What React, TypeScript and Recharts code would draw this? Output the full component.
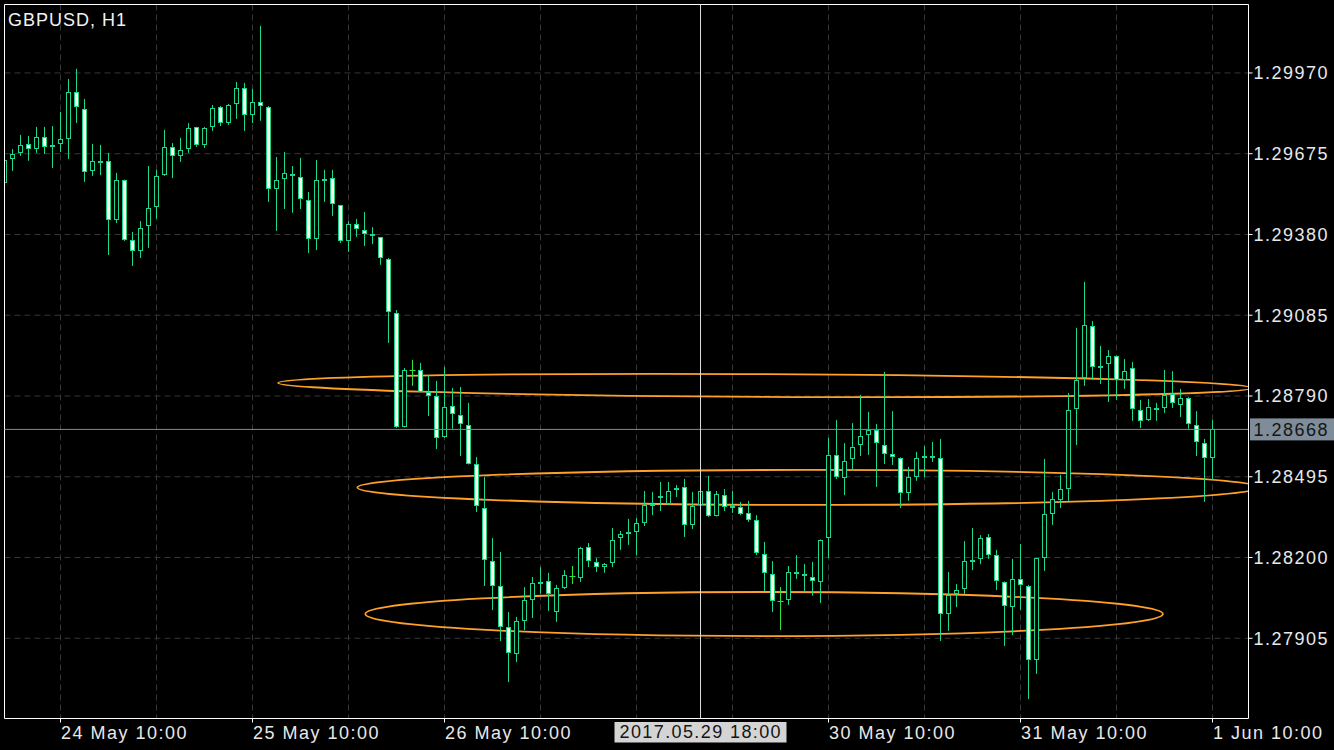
import {
  ComposedChart,
  Bar,
  XAxis,
  YAxis,
  CartesianGrid,
  ReferenceLine,
  ReferenceArea,
} from 'recharts'

// GBPUSD H1, bar 0 = 24 May 03:00 ... bar 151 = 1 Jun 10:00
const opens = [
  1.29568, 1.29656, 1.29678, 1.29711, 1.29692, 1.29736, 1.29707, 1.29711, 1.29729, 1.29901,
  1.29839, 1.29612, 1.29649, 1.29649, 1.29433, 1.29579, 1.2936, 1.2932, 1.29411, 1.29481,
  1.29597, 1.297, 1.29667, 1.29692, 1.29773, 1.29707, 1.29773, 1.29846, 1.29787, 1.29857,
  1.29915, 1.29817, 1.29864, 1.29846, 1.29546, 1.29583, 1.29601, 1.2959, 1.29506, 1.29364,
  1.29583, 1.29586, 1.29488, 1.29356, 1.29418, 1.29397, 1.29382, 1.29371, 1.29291, 1.29093,
  1.28677, 1.28885, 1.28885, 1.28805, 1.2879, 1.2864, 1.28754, 1.28721, 1.28684, 1.28542,
  1.28381, 1.28187, 1.28096, 1.27946, 1.27848, 1.27968, 1.28045, 1.28107, 1.28114, 1.28001,
  1.28089, 1.28133, 1.28125, 1.28239, 1.28184, 1.28165, 1.2818, 1.28271, 1.2829, 1.28293,
  1.28326, 1.28392, 1.28421, 1.28396, 1.28447, 1.28458, 1.28319, 1.28392, 1.28443, 1.28352,
  1.28428, 1.28388, 1.28385, 1.28363, 1.28337, 1.28213, 1.2814, 1.28041, 1.28045, 1.28147,
  1.2814, 1.28129, 1.28111, 1.28271, 1.28575, 1.28491, 1.2856, 1.28611, 1.28648, 1.28666,
  1.28611, 1.28578, 1.28564, 1.28436, 1.28494, 1.28567, 1.28571, 1.28564, 1.27994, 1.28067,
  1.28085, 1.28187, 1.28195, 1.28275, 1.28209, 1.28111, 1.28019, 1.28122, 1.28096, 1.27826,
  1.28198, 1.28359, 1.2841, 1.2845, 1.28743, 1.28856, 1.29046, 1.289, 1.28907, 1.28936,
  1.28849, 1.28892, 1.28739, 1.28702, 1.28746, 1.28746, 1.28797, 1.28757, 1.28783, 1.28684,
  1.28618, 1.28564,
]

const highs = [
  1.2967, 1.29692, 1.29744, 1.2974, 1.29773, 1.29773, 1.29776, 1.29828, 1.29948, 1.29985,
  1.29875, 1.29711, 1.29707, 1.29678, 1.29605, 1.2958, 1.29389, 1.29429, 1.2963, 1.29616,
  1.29762, 1.29714, 1.29733, 1.29787, 1.29773, 1.29773, 1.29853, 1.29849, 1.29857, 1.29937,
  1.29934, 1.29912, 1.30142, 1.29849, 1.29663, 1.29681, 1.2963, 1.2966, 1.29535, 1.29652,
  1.29616, 1.29616, 1.29488, 1.29429, 1.29437, 1.29462, 1.29407, 1.29371, 1.29294, 1.29104,
  1.28892, 1.28922, 1.28911, 1.28867, 1.28845, 1.28896, 1.28819, 1.28823, 1.28765, 1.28567,
  1.28494, 1.28271, 1.2822, 1.28001, 1.27983, 1.28092, 1.28129, 1.28165, 1.28144, 1.281,
  1.28154, 1.28169, 1.28239, 1.28253, 1.28198, 1.2818, 1.28308, 1.28297, 1.28341, 1.28344,
  1.28443, 1.28439, 1.28476, 1.28476, 1.28465, 1.28487, 1.28439, 1.28454, 1.28498, 1.28443,
  1.2845, 1.28443, 1.28403, 1.28407, 1.28355, 1.28257, 1.28187, 1.28092, 1.28169, 1.28209,
  1.28176, 1.28184, 1.28266, 1.28637, 1.28702, 1.28618, 1.28691, 1.28794, 1.28732, 1.28688,
  1.28878, 1.28735, 1.28566, 1.28531, 1.28586, 1.28607, 1.28622, 1.28633, 1.28147, 1.28103,
  1.2826, 1.28308, 1.28282, 1.28286, 1.28228, 1.28113, 1.28195, 1.28249, 1.281, 1.28198,
  1.2856, 1.28439, 1.28502, 1.28801, 1.29039, 1.29207, 1.29064, 1.28973, 1.28958, 1.28938,
  1.28925, 1.28914, 1.28776, 1.28779, 1.28765, 1.28885, 1.28881, 1.28816, 1.28786, 1.28735,
  1.28633, 1.28702,
]

const lows = [
  1.2955, 1.29612, 1.29667, 1.29649, 1.29678, 1.29674, 1.29623, 1.29681, 1.29656, 1.29787,
  1.29572, 1.29594, 1.29597, 1.29305, 1.29422, 1.29356, 1.29265, 1.29294, 1.29331, 1.29437,
  1.29594, 1.29586, 1.29645, 1.29678, 1.297, 1.29696, 1.29758, 1.29776, 1.2978, 1.29802,
  1.29758, 1.29787, 1.29795, 1.29499, 1.29393, 1.29473, 1.29459, 1.29473, 1.29312, 1.29323,
  1.29499, 1.29448, 1.29349, 1.29316, 1.29371, 1.29338, 1.29345, 1.29269, 1.28984, 1.28673,
  1.28675, 1.28827, 1.28803, 1.28717, 1.28596, 1.28637, 1.2867, 1.28571, 1.2854, 1.28366,
  1.28096, 1.28008, 1.27895, 1.27745, 1.27818, 1.27935, 1.27979, 1.28067, 1.28005, 1.27965,
  1.28085, 1.28103, 1.28111, 1.28165, 1.28147, 1.28144, 1.28165, 1.28228, 1.28246, 1.28209,
  1.28315, 1.28355, 1.2837, 1.28392, 1.28421, 1.28275, 1.28304, 1.28385, 1.28348, 1.2835,
  1.2837, 1.28363, 1.28355, 1.2833, 1.28209, 1.28078, 1.28001, 1.27935, 1.28027, 1.28122,
  1.28078, 1.2806, 1.28034, 1.28198, 1.28487, 1.28428, 1.2852, 1.28571, 1.28575, 1.28458,
  1.28542, 1.28538, 1.28381, 1.28407, 1.2848, 1.28494, 1.28549, 1.27895, 1.27932, 1.28019,
  1.28067, 1.28154, 1.28176, 1.28195, 1.28081, 1.27877, 1.27917, 1.28008, 1.27683, 1.27775,
  1.28151, 1.28319, 1.28381, 1.28407, 1.28611, 1.28827, 1.28849, 1.28834, 1.28768, 1.28776,
  1.28816, 1.28699, 1.28673, 1.28699, 1.28699, 1.28728, 1.28746, 1.28713, 1.2867, 1.28571,
  1.28403, 1.28483,
]

const closes = [
  1.29652, 1.29674, 1.29707, 1.29692, 1.29736, 1.297, 1.297, 1.29729, 1.29901, 1.29846,
  1.29608, 1.29649, 1.29645, 1.29433, 1.29579, 1.2936, 1.2932, 1.29404, 1.29477, 1.29594,
  1.297, 1.29667, 1.29689, 1.29769, 1.29707, 1.29769, 1.29842, 1.29787, 1.29853, 1.29915,
  1.29817, 1.29864, 1.29849, 1.29546, 1.29579, 1.29605, 1.29594, 1.2951, 1.29364, 1.29579,
  1.29579, 1.29491, 1.29356, 1.29418, 1.294, 1.29382, 1.29375, 1.29294, 1.29097, 1.28677,
  1.28885, 1.28885, 1.28805, 1.2879, 1.28637, 1.2875, 1.28724, 1.28688, 1.28542, 1.28388,
  1.28191, 1.28096, 1.27946, 1.27851, 1.27968, 1.28045, 1.28107, 1.28111, 1.28067, 1.28089,
  1.28136, 1.28133, 1.28235, 1.28187, 1.28165, 1.28176, 1.28264, 1.28286, 1.28293, 1.28326,
  1.28392, 1.28396, 1.28425, 1.28443, 1.28454, 1.28319, 1.28388, 1.28443, 1.28352, 1.28432,
  1.28385, 1.28385, 1.28359, 1.28337, 1.28217, 1.28144, 1.28041, 1.28041, 1.28147, 1.2814,
  1.28136, 1.28114, 1.28264, 1.28575, 1.28494, 1.28553, 1.28604, 1.28644, 1.28666, 1.28618,
  1.28578, 1.28567, 1.28436, 1.28494, 1.28564, 1.28571, 1.28567, 1.27994, 1.28063, 1.28081,
  1.28187, 1.28191, 1.28271, 1.28209, 1.28114, 1.28023, 1.28122, 1.281, 1.27826, 1.28198,
  1.28359, 1.28414, 1.2845, 1.28739, 1.28849, 1.29049, 1.28896, 1.28896, 1.28936, 1.28849,
  1.28881, 1.28743, 1.28699, 1.2875, 1.28743, 1.28794, 1.28765, 1.28783, 1.28688, 1.28622,
  1.28564, 1.28668,
]

// axes
const priceTicks = [1.27905, 1.282, 1.28495, 1.2879, 1.29085, 1.2938, 1.29675, 1.2997]
const gridBars = [7, 19, 31, 43, 55, 67, 79, 91, 103, 115, 127, 139, 151]
const labelBars = [7, 31, 55, 79, 103, 127, 151]
const labelTexts = ['24 May 10:00', '25 May 10:00', '26 May 10:00', '29 May 10:00', '30 May 10:00', '31 May 10:00', '1 Jun 10:00']
const priceDomain = [1.27612, 1.3022]
const barDomain = [0, 155.5]

// chart objects
const bidPrice = 1.28668
const crossBar = 87
const crossText = '2017.05.29 18:00'
const ellipseLeft = [34.2, 44.1, 45.1]
const ellipseRight = [155.9, 156.8, 144.8]
const ellipseLow = [1.28787, 1.28392, 1.27913]
const ellipseHigh = [1.2887, 1.2852, 1.28074]
const ellipseTilt = [0.3, 0, 0]

const FONT = '"Liberation Sans", Arial, Helvetica, sans-serif'
const WICK = '#1bd68c'
const DOJI = '#2fe23a'
const CREAM = '#fff6d6'
const ORANGE = '#ffa02a'
const TEXT = '#e8e8e8'

const candles = opens.map((o, i) => ({
  i,
  open: o,
  high: highs[i],
  low: lows[i],
  close: closes[i],
  range: [lows[i], highs[i]],
}))

function Candle(props: any) {
  const { x, y, width, height, payload } = props
  if (!payload || height == null || isNaN(y)) return null
  const { open, close, high, low } = payload
  const cx = Math.floor(x + width / 2) + 0.5
  const per = height / (high - low)
  const toY = (p: number) => y + (high - p) * per
  const yo = toY(open)
  const yc = toY(close)
  const top = Math.round(Math.min(yo, yc))
  const bottom = Math.round(Math.max(yo, yc))
  if (open === close) {
    return (
      <g>
        <line x1={cx} x2={cx} y1={y} y2={y + height} stroke={DOJI} />
        <line x1={cx - 3} x2={cx + 3} y1={top + 0.5} y2={top + 0.5} stroke={DOJI} />
      </g>
    )
  }
  const bull = close > open
  return (
    <g>
      <line x1={cx} x2={cx} y1={y} y2={y + height} stroke={WICK} />
      {bottom - top < 2 ? (
        <rect x={cx - 2.5} y={top} width={5} height={2} fill={WICK} />
      ) : (
        <rect
          x={cx - 2}
          y={top + 0.5}
          width={4}
          height={bottom - top - 1}
          fill={bull ? '#000' : CREAM}
          stroke={WICK}
          strokeWidth={1}
        />
      )}
    </g>
  )
}

function XTick(props: any) {
  const { x, y, payload } = props
  const n = labelBars.indexOf(payload.value)
  if (n < 0 || Math.abs(payload.value - crossBar) < 12) return null
  return (
    <g>
      <line x1={x} x2={x} y1={y} y2={y + 4} stroke="#fff" />
      <text x={x + 0.5} y={y + 20.5} fill={TEXT} fontSize={18} fontFamily={FONT} letterSpacing={1.5}>
        {labelTexts[n]}
      </text>
    </g>
  )
}

function PriceTag(props: any) {
  const { viewBox } = props
  if (!viewBox) return null
  const right = viewBox.x + viewBox.width
  return (
    <g>
      <rect x={right + 1.5} y={viewBox.y - 11} width={90} height={22} fill="#7f8c99" />
      <text x={right + 5} y={viewBox.y + 6.5} fill="#151515" fontSize={18} fontFamily={FONT} letterSpacing={1.5}>
        {bidPrice.toFixed(5)}
      </text>
    </g>
  )
}

function TimeTag(props: any) {
  const { viewBox } = props
  if (!viewBox) return null
  const bottom = viewBox.y + viewBox.height
  return (
    <g>
      <rect x={viewBox.x - 86} y={bottom + 3.5} width={172} height={20.5} fill="#d4d4d4" />
      <text x={viewBox.x - 81} y={bottom + 19.5} fill="#151515" fontSize={18} fontFamily={FONT} letterSpacing={1.4}>
        {crossText}
      </text>
    </g>
  )
}

const ellipseShape = (tilt: number) => (props: any) => {
  const { x, y, width, height, clipPath } = props
  const cx = x + width / 2
  const cy = y + height / 2
  return (
    <g clipPath={clipPath}>
      <ellipse
        cx={cx}
        cy={cy}
        rx={width / 2}
        ry={height / 2}
        fill="none"
        stroke={ORANGE}
        strokeWidth={1.8}
        transform={`rotate(${tilt} ${cx} ${cy})`}
      />
    </g>
  )
}

export default function App() {
  return (
    <div style={{ position: 'absolute', left: 0, top: 0, width: 1334, height: 750, background: '#000', overflow: 'hidden' }}>
      <div
        style={{
          position: 'absolute',
          left: 8,
          top: 10,
          color: '#f2f2f2',
          fontFamily: FONT,
          fontSize: 18,
          lineHeight: '20px',
          letterSpacing: 1,
          zIndex: 2,
        }}
      >
        GBPUSD, H1
      </div>
      <ComposedChart width={1334} height={750} data={candles} margin={{ top: 4.5, right: 0, bottom: 0, left: 4.5 }}>
        <CartesianGrid stroke="#363636" strokeDasharray="6 4" />
        <XAxis
          dataKey="i"
          type="number"
          domain={barDomain}
          ticks={gridBars}
          interval={0}
          allowDataOverflow
          height={31.5}
          tickSize={0}
          tickMargin={0}
          tickLine={false}
          axisLine={{ stroke: '#fff' }}
          tick={<XTick />}
        />
        <YAxis
          orientation="right"
          type="number"
          domain={priceDomain}
          ticks={priceTicks}
          interval={0}
          allowDataOverflow
          width={85.5}
          tickSize={4}
          tickMargin={1}
          tickLine={{ stroke: '#fff' }}
          axisLine={{ stroke: '#fff' }}
          tickFormatter={(v: number) => v.toFixed(5)}
          tick={{ fill: TEXT, fontSize: 18, fontFamily: FONT, letterSpacing: 1.5 }}
        />
        <ReferenceLine x={barDomain[0]} stroke="#fff" />
        <ReferenceLine y={priceDomain[1]} stroke="#fff" />
        <ReferenceLine y={bidPrice} stroke="#8a8a8a" label={<PriceTag />} />
        <Bar dataKey="range" barSize={5} shape={<Candle />} isAnimationActive={false} />
        {ellipseLeft.map((l, n) => (
          <ReferenceArea
            key={n}
            x1={l}
            x2={ellipseRight[n]}
            y1={ellipseLow[n]}
            y2={ellipseHigh[n]}
            ifOverflow="hidden"
            shape={ellipseShape(ellipseTilt[n])}
          />
        ))}
        <ReferenceLine x={crossBar} stroke="#dcdcdc" label={<TimeTag />} />
      </ComposedChart>
    </div>
  )
}
